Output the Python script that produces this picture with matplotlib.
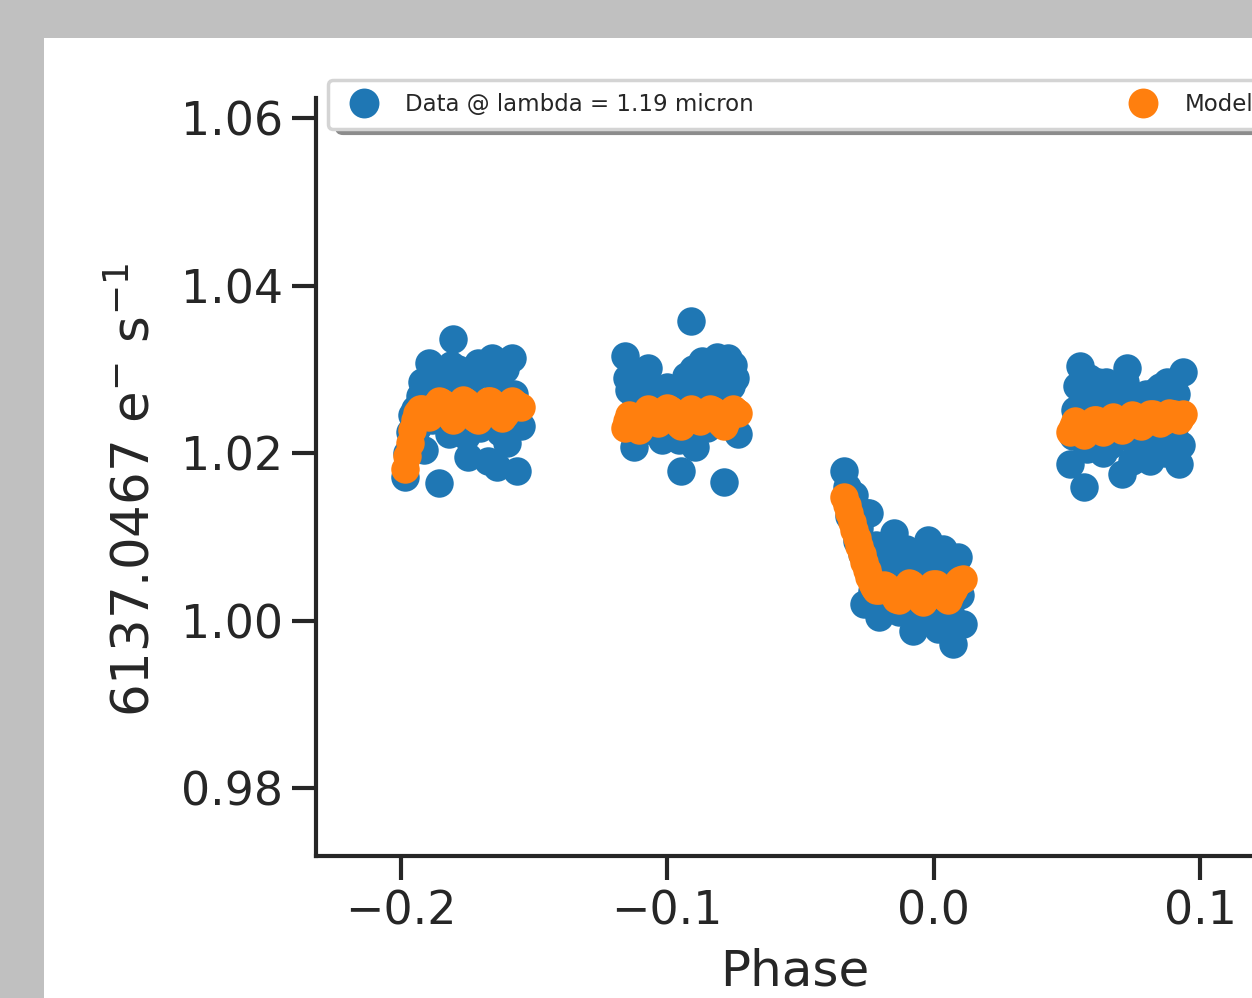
import matplotlib
matplotlib.use("Agg")
import matplotlib.pyplot as plt
from matplotlib.patches import Rectangle, FancyBboxPatch
from matplotlib.transforms import IdentityTransform
from matplotlib.ticker import FixedLocator, FuncFormatter

# ---------------- data ----------------
# visit 1
phase_v1 = [-0.1985, -0.1967, -0.1949, -0.1930, -0.1912, -0.1894, -0.1876, -0.1857,
            -0.1839, -0.1821, -0.1803, -0.1784, -0.1766, -0.1748, -0.1730, -0.1711,
            -0.1693, -0.1675, -0.1657, -0.1638, -0.1620, -0.1602, -0.1584, -0.1565, -0.1550,
            -0.1976, -0.1958, -0.1940, -0.1921, -0.1903, -0.1885, -0.1866, -0.1848,
            -0.1830, -0.1812, -0.1794, -0.1775, -0.1757, -0.1739, -0.1721, -0.1702,
            -0.1684, -0.1666, -0.1648, -0.1629, -0.1611, -0.1593, -0.1575]
data_v1 = [1.0171, 1.0225, 1.0252, 1.0268, 1.0203, 1.0307, 1.0295, 1.0164,
           1.0280, 1.0223, 1.0336, 1.0300, 1.0245, 1.0195, 1.0290, 1.0307,
           1.0260, 1.0190, 1.0314, 1.0183, 1.0275, 1.0212, 1.0314, 1.0179, 1.0232,
           1.0200, 1.0245, 1.0230, 1.0285, 1.0255, 1.0240, 1.0250, 1.0290,
           1.0260, 1.0305, 1.0235, 1.0280, 1.0220, 1.0265, 1.0300, 1.0230,
           1.0295, 1.0250, 1.0290, 1.0225, 1.0300, 1.0245, 1.0270]
model_v1 = [1.0181, 1.0212, 1.0240, 1.0253, 1.0250, 1.0243, 1.0255, 1.0262,
            1.0258, 1.0247, 1.0240, 1.0252, 1.0263, 1.0257, 1.0245, 1.0240,
            1.0250, 1.0262, 1.0260, 1.0248, 1.0242, 1.0253, 1.0262, 1.0257, 1.0255,
            1.0196, 1.0228, 1.0248, 1.0252, 1.0246, 1.0249, 1.0259, 1.0261,
            1.0252, 1.0243, 1.0246, 1.0258, 1.0261, 1.0251, 1.0242, 1.0245,
            1.0256, 1.0262, 1.0254, 1.0245, 1.0247, 1.0258, 1.0260]

# visit 2
phase_v2 = [-0.1160, -0.1142, -0.1124, -0.1107, -0.1089, -0.1071, -0.1054, -0.1036,
            -0.1018, -0.1001, -0.0983, -0.0965, -0.0948, -0.0930, -0.0912, -0.0895,
            -0.0877, -0.0859, -0.0841, -0.0824, -0.0806, -0.0788, -0.0771, -0.0753, -0.0735,
            -0.1151, -0.1133, -0.1116, -0.1098, -0.1080, -0.1062, -0.1045, -0.1027,
            -0.1009, -0.0992, -0.0974, -0.0956, -0.0939, -0.0921, -0.0903, -0.0886,
            -0.0868, -0.0850, -0.0832, -0.0815, -0.0797, -0.0780, -0.0762, -0.0744]
data_v2 = [1.0316, 1.0275, 1.0207, 1.0255, 1.0290, 1.0302, 1.0232, 1.0268,
           1.0215, 1.0279, 1.0262, 1.0228, 1.0179, 1.0292, 1.0358, 1.0207,
           1.0300, 1.0285, 1.0245, 1.0310, 1.0290, 1.0165, 1.0314, 1.0305, 1.0223,
           1.0290, 1.0240, 1.0265, 1.0225, 1.0280, 1.0250, 1.0265, 1.0230,
           1.0255, 1.0240, 1.0270, 1.0215, 1.0255, 1.0285, 1.0300, 1.0265,
           1.0310, 1.0230, 1.0295, 1.0315, 1.0260, 1.0300, 1.0280, 1.0290]
model_v2 = [1.0230, 1.0245, 1.0238, 1.0228, 1.0240, 1.0252, 1.0248, 1.0236,
            1.0244, 1.0254, 1.0250, 1.0238, 1.0232, 1.0245, 1.0253, 1.0248,
            1.0238, 1.0245, 1.0252, 1.0250, 1.0240, 1.0232, 1.0245, 1.0252, 1.0248,
            1.0238, 1.0242, 1.0232, 1.0234, 1.0246, 1.0250, 1.0242, 1.0240,
            1.0249, 1.0252, 1.0244, 1.0235, 1.0238, 1.0249, 1.0250, 1.0243,
            1.0241, 1.0248, 1.0251, 1.0245, 1.0236, 1.0238, 1.0248, 1.0250]

# visit 3 (transit)
phase_v3 = [-0.0335, -0.0316, -0.0298, -0.0279, -0.0261, -0.0242, -0.0224, -0.0205,
            -0.0187, -0.0168, -0.0150, -0.0131, -0.0113, -0.0094, -0.0076, -0.0057,
            -0.0039, -0.0020, -0.0002, 0.0017, 0.0035, 0.0054, 0.0072, 0.0091, 0.0110,
            -0.0326, -0.0307, -0.0289, -0.0270, -0.0252, -0.0233, -0.0215, -0.0196,
            -0.0178, -0.0159, -0.0141, -0.0122, -0.0104, -0.0085, -0.0067, -0.0048,
            -0.0030, -0.0011, 0.0008, 0.0026, 0.0045, 0.0063, 0.0082, 0.0100]
data_v3 = [1.0179, 1.0125, 1.0150, 1.0110, 1.0020, 1.0128, 1.0065, 1.0004,
           1.0085, 1.0030, 1.0104, 1.0010, 1.0072, 1.0040, 0.9988, 1.0060,
           1.0002, 1.0096, 1.0050, 0.9990, 1.0085, 1.0040, 0.9972, 1.0076, 0.9996,
           1.0160, 1.0135, 1.0095, 1.0080, 1.0128, 1.0035, 1.0090, 1.0050,
           1.0015, 1.0095, 1.0060, 1.0035, 1.0085, 1.0010, 1.0075, 1.0025,
           1.0085, 1.0010, 1.0065, 1.0030, 1.0075, 1.0010, 1.0060, 1.0030]
model_v3 = [1.0148, 1.0128, 1.0108, 1.0089, 1.0070, 1.0052, 1.0040, 1.0036,
            1.0042, 1.0038, 1.0030, 1.0024, 1.0035, 1.0045, 1.0040, 1.0030,
            1.0022, 1.0033, 1.0044, 1.0040, 1.0030, 1.0025, 1.0036, 1.0046, 1.0050,
            1.0138, 1.0118, 1.0098, 1.0080, 1.0060, 1.0045, 1.0037, 1.0040,
            1.0041, 1.0034, 1.0026, 1.0029, 1.0040, 1.0043, 1.0035, 1.0025,
            1.0027, 1.0039, 1.0043, 1.0035, 1.0027, 1.0030, 1.0041, 1.0048]

# visit 4
phase_v4 = [0.0513, 0.0531, 0.0549, 0.0566, 0.0584, 0.0602, 0.0619, 0.0637,
            0.0655, 0.0672, 0.0690, 0.0708, 0.0725, 0.0743, 0.0761, 0.0778,
            0.0796, 0.0814, 0.0831, 0.0849, 0.0867, 0.0884, 0.0902, 0.0920, 0.0937,
            0.0522, 0.0540, 0.0558, 0.0575, 0.0593, 0.0611, 0.0628, 0.0646,
            0.0664, 0.0681, 0.0699, 0.0717, 0.0734, 0.0752, 0.0770, 0.0787,
            0.0805, 0.0823, 0.0840, 0.0858, 0.0876, 0.0893, 0.0911, 0.0929]
data_v4 = [1.0187, 1.0251, 1.0304, 1.0159, 1.0290, 1.0235, 1.0285, 1.0200,
           1.0275, 1.0215, 1.0262, 1.0175, 1.0302, 1.0190, 1.0258, 1.0205,
           1.0270, 1.0191, 1.0265, 1.0279, 1.0200, 1.0268, 1.0230, 1.0187, 1.0297,
           1.0220, 1.0280, 1.0245, 1.0205, 1.0270, 1.0215, 1.0260, 1.0285,
           1.0210, 1.0280, 1.0225, 1.0285, 1.0250, 1.0215, 1.0262, 1.0195,
           1.0255, 1.0215, 1.0275, 1.0210, 1.0285, 1.0220, 1.0270, 1.0210]
model_v4 = [1.0225, 1.0238, 1.0230, 1.0222, 1.0232, 1.0240, 1.0236, 1.0225,
            1.0234, 1.0243, 1.0238, 1.0228, 1.0236, 1.0245, 1.0242, 1.0232,
            1.0238, 1.0247, 1.0244, 1.0236, 1.0240, 1.0248, 1.0246, 1.0240, 1.0247,
            1.0232, 1.0235, 1.0226, 1.0227, 1.0236, 1.0239, 1.0230, 1.0229,
            1.0239, 1.0241, 1.0233, 1.0232, 1.0241, 1.0244, 1.0237, 1.0235,
            1.0243, 1.0246, 1.0240, 1.0238, 1.0244, 1.0247, 1.0243, 1.0244]

x_ticks = [-0.2, -0.1, 0.0, 0.1]
y_ticks = [0.98, 1.00, 1.02, 1.04, 1.06]
data_label = "Data @ lambda = 1.19 micron"
model_label = "Model"
x_label = "Phase"
y_label = r"$\mathrm{6137.0467\ e^{-}\ s^{-1}}$"

phase = phase_v1 + phase_v2 + phase_v3 + phase_v4
data = data_v1 + data_v2 + data_v3 + data_v4
model = model_v1 + model_v2 + model_v3 + model_v4

# ---------------- figure ----------------
W, H = 1252, 998
plt.rcParams["mathtext.fontset"] = "dejavusans"
fig = plt.figure(figsize=(W / 100, H / 100), dpi=100, facecolor="#c0c0c0")
fig.patches.append(Rectangle((44 / W, 0), 1 - 44 / W, 1 - 38 / H,
                             transform=fig.transFigure, facecolor="white",
                             edgecolor="none", zorder=-10))

ax = fig.add_axes([316 / W, (H - 856) / H, 958 / W, (856 - 98) / H])
ax.set_facecolor("white")

ink = "#262626"
ax.plot(phase, data, "o", color="#1f77b4", ms=20.5, mew=0, label=data_label, zorder=2)
ax.plot(phase, model, "o", color="#ff7f0e", ms=20.5, mew=0, label=model_label, zorder=3)

ax.set_xlim(-0.2319, 0.1278)
ax.set_ylim(0.97188, 1.06239)
ax.xaxis.set_major_locator(FixedLocator(x_ticks))
ax.yaxis.set_major_locator(FixedLocator(y_ticks))
ax.xaxis.set_major_formatter(FuncFormatter(lambda v, p: ("%.1f" % v).replace("-", "\u2212")))
ax.yaxis.set_major_formatter(FuncFormatter(lambda v, p: "%.2f" % v))

for s in ["top", "right"]:
    ax.spines[s].set_visible(False)
for s in ["left", "bottom"]:
    ax.spines[s].set_linewidth(3)
    ax.spines[s].set_color(ink)
ax.tick_params(length=17, width=3, pad=7, labelsize=33, color=ink, labelcolor=ink)

fig.text(795 / W, 1 - 985 / H, x_label, ha="center", va="baseline",
         fontsize=36, color=ink)
fig.text(149 / W, 1 - 490 / H, y_label, ha="center", va="baseline",
         rotation=90, rotation_mode="anchor", fontsize=37, color=ink)

leg = ax.legend(loc="center", bbox_to_anchor=(328 / W, 1 - 129 / H, (1266 - 328) / W, 49 / H),
                bbox_transform=fig.transFigure, mode="expand", ncol=2, fontsize=16.5,
                borderaxespad=0, borderpad=0.57, frameon=True, fancybox=True, framealpha=1,
                markerscale=1.05)
leg.get_frame().set_edgecolor("#d4d4d4")
leg.get_frame().set_linewidth(2.5)
for t in leg.get_texts():
    t.set_color(ink)

fig.canvas.draw()
bb = leg.get_window_extent(fig.canvas.get_renderer())
shadow = FancyBboxPatch((bb.x0 + 7, bb.y0 - 6), bb.width, bb.height,
                        boxstyle="round,pad=0,rounding_size=8",
                        transform=IdentityTransform(), facecolor="#8c8c8c",
                        edgecolor="none", zorder=4.9, clip_on=False)
ax.add_patch(shadow)

fig.savefig("out.png", dpi=100, facecolor=fig.get_facecolor())
